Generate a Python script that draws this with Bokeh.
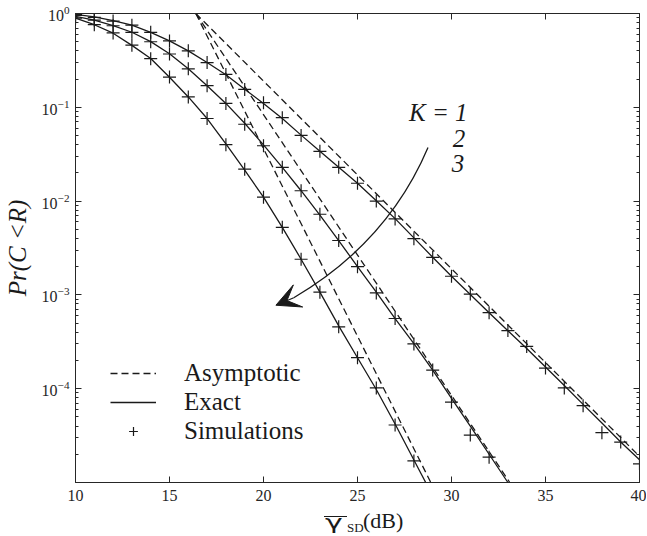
from bokeh.plotting import figure
from bokeh.layouts import column
from bokeh.models import (Range1d, FixedTicker, LinearAxis, LogAxis, Label, Legend,
                          LegendItem, Arrow, VeeHead, CustomJSTickFormatter, Div)
from bokeh.embed import file_html
from bokeh.resources import INLINE

# ---------------- data ----------------
# Monte-Carlo simulation points
sim_x_k1 = list(range(10, 41))
sim_k1 = [0.98, 0.91, 0.83, 0.75, 0.63, 0.51, 0.40, 0.30, 0.224, 0.155,
          0.112, 0.0776, 0.0501, 0.0339, 0.0229, 0.0155, 0.0100, 0.00646, 0.00398, 0.00251,
          0.00158, 0.00102, 0.000646, 0.000417, 0.000282, 0.000166, 0.000102, 6.6e-5, 3.4e-5, 2.7e-5,
          1.58e-5]
sim_x_k2 = list(range(10, 33))
sim_k2 = [0.955, 0.85, 0.74, 0.63, 0.50, 0.37, 0.257, 0.170, 0.110, 0.066,
          0.0389, 0.0229, 0.0129, 0.00724, 0.0038, 0.0020, 0.00105, 0.00056, 0.0003, 0.000158,
          7.2e-5, 3.2e-5, 1.86e-5]
sim_x_k3 = list(range(10, 29))
sim_k3 = [0.89, 0.76, 0.62, 0.46, 0.33, 0.21, 0.129, 0.076, 0.040, 0.0219,
          0.011, 0.00525, 0.0024, 0.00107, 0.000457, 0.000214, 0.000102, 4.1e-5, 1.7e-5]

# Exact (analytical) curves
exact_x_k1 = list(range(10, 41))
exact_k1 = [0.98, 0.92, 0.84, 0.75, 0.63, 0.51, 0.40, 0.30, 0.222, 0.156,
            0.110, 0.0760, 0.0505, 0.0340, 0.0229, 0.0155, 0.0101, 0.00650, 0.00405, 0.00252,
            0.00158, 0.00101, 0.000646, 0.000414, 0.000268, 0.000170, 0.000108, 6.8e-5, 4.3e-5, 2.7e-5,
            1.75e-5]
exact_x_k2 = list(range(10, 35))
exact_k2 = [0.933, 0.851, 0.741, 0.631, 0.501, 0.372, 0.257, 0.170, 0.110, 0.0676,
            0.0398, 0.0229, 0.0129, 0.00708, 0.0038, 0.0020, 0.00107, 0.00056, 0.000302, 0.000158,
            7.9e-5, 4.0e-5, 2.0e-5, 1.0e-5, 5.0e-6]
exact_x_k3 = list(range(10, 30))
exact_k3 = [0.891, 0.759, 0.617, 0.457, 0.331, 0.209, 0.129, 0.0759, 0.0407, 0.0214,
            0.011, 0.00525, 0.0024, 0.00107, 0.000468, 0.000214, 9.8e-5, 4.2e-5, 1.74e-5, 7.2e-6]

# Asymptotic (high-SNR) straight lines
asym_x_k1 = [16.4, 40.0]
asym_k1 = [1.0, 1.9e-5]
asym_x_k2 = [16.4, 33.1]
asym_k2 = [1.0, 1.0e-5]
asym_x_k3 = [16.4, 28.9]
asym_k3 = [1.0, 1.0e-5]

# axis ticks
y_major = [1e-4, 1e-3, 1e-2, 1e-1, 1.0]
x_major = [10, 15, 20, 25, 30, 35, 40]

# annotation "K = 1, 2, 3" and arrow path (quadratic curve: start, control, end; tip)
k_labels = ["K = 1", "2", "3"]
k_label_x = [27.74, 30.40, 30.35]
k_label_y = [0.0885, 0.0467, 0.0252]
arrow_x = [28.75, 26.61, 21.61, 20.66]
arrow_y = [0.0372, 0.00362, 0.000933, 0.000776]

# ---------------- styling ----------------
INK = "#1a1a1a"
AX = "#262626"
SERIF = "Liberation Serif"

p = figure(frame_width=564, frame_height=469, x_axis_type="linear", y_axis_type="log",
           x_range=Range1d(10, 40), y_range=Range1d(1e-5, 1.0),
           output_backend="svg", toolbar_location=None,
           min_border_left=75, min_border_right=7, min_border_top=13, min_border_bottom=28)
p.background_fill_color = "white"
p.border_fill_color = "white"
p.grid.visible = False
p.outline_line_color = AX
p.outline_line_width = 1

minor = []
for e in range(-5, 0):
    for m in range(2, 10):
        minor.append(m * 10.0 ** e)

blank = CustomJSTickFormatter(code="return ''")

def style_x(ax, show_labels=True):
    ax.ticker = FixedTicker(ticks=x_major)
    ax.axis_line_color = AX
    ax.major_tick_line_color = AX
    ax.major_tick_in = 6
    ax.major_tick_out = 0
    ax.minor_tick_line_color = None
    ax.major_label_text_font = SERIF
    ax.major_label_text_font_size = "16px"
    ax.major_label_text_color = AX
    ax.major_label_standoff = 7 if show_labels else 0
    if not show_labels:
        ax.formatter = blank

def style_y(ax, show_labels=True):
    ax.ticker = FixedTicker(ticks=y_major, minor_ticks=minor)
    ax.axis_line_color = AX
    ax.major_tick_line_color = AX
    ax.minor_tick_line_color = AX
    ax.major_tick_in = 6
    ax.major_tick_out = 0
    ax.minor_tick_in = 3
    ax.minor_tick_out = 0
    ax.major_label_text_font = SERIF
    ax.major_label_text_font_size = "16px"
    ax.major_label_text_color = AX
    ax.major_label_standoff = 6 if show_labels else 0
    if not show_labels:
        ax.formatter = blank

style_x(p.xaxis[0])
style_y(p.yaxis[0])
p.yaxis[0].axis_label = "Pr(C <R)"
p.yaxis[0].axis_label_text_font = SERIF
p.yaxis[0].axis_label_text_font_style = "italic"
p.yaxis[0].axis_label_text_font_size = "25px"
p.yaxis[0].axis_label_text_color = INK
p.yaxis[0].axis_label_standoff = 8

top = LinearAxis()
style_x(top, False)
p.add_layout(top, "above")
right = LogAxis()
style_y(right, False)
p.add_layout(right, "right")

# curves
asym_r = []
for xs, ys in ((asym_x_k1, asym_k1), (asym_x_k2, asym_k2), (asym_x_k3, asym_k3)):
    asym_r.append(p.line(xs, ys, line_color=INK, line_width=1.3, line_dash="7 4"))
exact_r = []
for xs, ys in ((exact_x_k1, exact_k1), (exact_x_k2, exact_k2), (exact_x_k3, exact_k3)):
    exact_r.append(p.line(xs, ys, line_color=INK, line_width=1.3))
sim_r = []
for xs, ys in ((sim_x_k1, sim_k1), (sim_x_k2, sim_k2), (sim_x_k3, sim_k3)):
    sim_r.append(p.scatter(xs, ys, marker="cross", size=13, line_color=INK, line_width=1.2))

legend = Legend(items=[LegendItem(label="Asymptotic", renderers=[asym_r[0]]),
                       LegendItem(label="Exact", renderers=[exact_r[0]]),
                       LegendItem(label="Simulations", renderers=[sim_r[0]], index=0)],
                location=(35, 37), border_line_color=None, background_fill_alpha=0,
                padding=0, margin=0, spacing=1, glyph_width=46, glyph_height=22,
                label_height=22, label_standoff=28,
                label_text_font=SERIF, label_text_font_size="25px", label_text_color=INK)
p.add_layout(legend, "center")

# K annotation
for t, lx, ly in zip(k_labels, k_label_x, k_label_y):
    p.add_layout(Label(x=lx, y=ly, text=t, text_font=SERIF, text_font_style="italic",
                       text_font_size="25px", text_color=INK,
                       text_align="left" if t.startswith("K") else "center",
                       text_baseline="middle"))
p.quadratic(x0=[arrow_x[0]], y0=[arrow_y[0]], x1=[arrow_x[2]], y1=[arrow_y[2]],
            cx=[arrow_x[1]], cy=[arrow_y[1]], line_color=INK, line_width=1.3)
p.add_layout(Arrow(x_start=arrow_x[2], y_start=arrow_y[2], x_end=arrow_x[3], y_end=arrow_y[3],
                   line_color=INK, line_width=1.3,
                   end=VeeHead(size=24, fill_color=INK, line_color=INK, line_width=1)))

# x axis label (overlined gamma, subscript SD, (dB)) as HTML text under the figure
xlabel_html = (
    "<div style=\"position:relative;width:647px;height:26px;color:#1a1a1a;\">"
    "<span style=\"position:absolute;left:324px;top:6px;width:23px;height:0;"
    "border-top:1.3px solid #1a1a1a;\"></span>"
    "<span style=\"position:absolute;left:325px;top:2px;font-family:'DejaVu Sans';"
    "font-size:20px;line-height:20px;display:inline-block;transform:scaleX(1.5);"
    "transform-origin:left center;\">\u03b3</span>"
    "<span style=\"position:absolute;left:347px;top:11px;font-family:'Liberation Serif';"
    "font-size:13px;line-height:13px;\">SD</span>"
    "<span style=\"position:absolute;left:363px;top:0px;font-family:'Liberation Serif';"
    "font-size:22px;line-height:22px;\">(dB)</span>"
    "</div>"
)
xlabel = Div(text=xlabel_html, width=647, height=26, margin=(0, 0, 0, 0))

layout = column(p, xlabel, spacing=0)
open("out.html", "w").write(file_html(layout, INLINE))
